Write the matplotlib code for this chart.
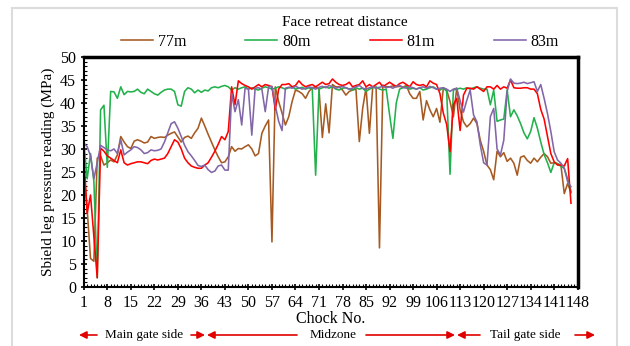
import numpy as np
import matplotlib.pyplot as plt
from matplotlib.patches import Rectangle
from matplotlib.ticker import MultipleLocator

# shield leg pressure (MPa) per chock, chocks 1..146
p77 = [25.5, 17.0, 6.2, 5.6, 28.0, 28.5, 26.5, 27.0, 27.6, 27.2,
       28.7, 32.7, 31.5, 30.5, 30.1, 31.7, 32.0, 31.7, 31.3, 31.5,
       32.7, 32.3, 32.5, 32.6, 32.5, 33.0, 33.4, 33.7, 32.6, 31.5,
       32.5, 32.8, 32.3, 33.5, 34.5, 36.7, 35.0, 33.2, 31.5, 29.8,
       28.3, 27.0, 27.2, 28.3, 30.5, 29.5, 30.1, 30.0, 30.5, 30.9,
       30.0, 28.5, 29.0, 33.4, 35.0, 36.3, 9.8, 43.5, 40.3, 37.8,
       35.2, 37.0, 40.3, 42.8, 42.5, 42.0, 41.0, 42.5, 43.3, 43.5,
       43.0, 32.5, 39.8, 33.5, 44.0, 43.5, 43.5, 42.8, 41.7, 42.5,
       42.8, 43.0, 31.6, 38.8, 43.3, 33.4, 43.5, 43.3, 8.5, 43.9,
       43.5, 43.5, 43.7, 43.5, 43.6, 43.4, 43.8, 42.0, 41.0, 41.0,
       42.5, 36.3, 40.5, 38.5, 37.0, 38.8, 35.8, 43.2, 42.8, 40.3,
       37.0, 43.2, 38.5, 35.9, 34.8, 35.5, 36.7, 35.5, 31.9, 29.5,
       26.5, 25.5, 23.3, 29.5, 28.3, 29.2, 27.3, 28.0, 26.9, 24.3,
       28.2, 28.5, 27.5, 26.9, 28.0, 27.2, 28.2, 29.0, 28.3, 26.9,
       27.0, 26.8, 26.5, 20.3, 22.5, 20.5]

p80 = [31.5, 23.5, 29.0, 23.0, 2.0, 38.5, 39.5, 26.0, 42.5, 42.4,
       41.0, 43.5, 41.8, 42.5, 42.4, 42.5, 43.0, 42.3, 42.0, 43.0,
       42.5, 42.0, 41.7, 42.3, 42.8, 43.0, 43.0, 42.5, 39.6, 39.3,
       42.5, 43.3, 43.0, 42.2, 42.8, 42.3, 42.8, 42.6, 43.3, 43.5,
       43.3, 43.6, 43.8, 43.5, 42.8, 43.3, 43.0, 43.3, 43.5, 43.0,
       43.3, 43.0, 42.8, 43.2, 43.5, 43.3, 43.0, 43.2, 43.5, 43.3,
       43.0, 43.3, 43.5, 43.0, 43.2, 43.4, 43.0, 43.3, 43.0, 24.3,
       43.0, 43.3, 43.5, 43.2, 43.6, 43.0, 42.8, 43.2, 43.3, 43.0,
       42.8, 43.3, 43.0, 43.2, 42.5, 43.0, 43.3, 43.5, 43.0, 42.8,
       43.0, 37.5, 32.3, 40.0, 43.0, 43.3, 43.5, 43.0, 43.2, 43.0,
       43.3, 42.8, 43.0, 43.3, 43.5, 43.0, 42.8, 43.3, 42.5, 24.5,
       42.8, 43.0, 43.2, 43.0, 43.3, 43.0, 43.3, 43.5, 43.2, 43.0,
       43.0, 39.6, 42.8, 36.0, 36.3, 36.5, 42.8, 37.0, 38.5, 37.2,
       35.5, 33.5, 32.2, 33.8, 36.8, 34.5, 31.5, 28.8, 27.0, 24.9,
       27.0, 26.8, 26.2, 25.8, 23.5, 20.8]

p81 = [28.5, 16.0, 20.0, 11.0, 2.0, 30.2, 29.5, 28.5, 28.0, 27.5,
       27.0, 29.8, 27.0, 26.5, 26.8, 27.0, 27.2, 27.2, 27.0, 26.8,
       27.5, 27.8, 27.6, 27.8, 28.0, 29.0, 30.5, 32.0, 31.5, 30.0,
       28.0, 27.0, 26.3, 26.0, 25.8, 25.8, 26.5, 27.0, 28.2, 29.5,
       31.0, 32.7, 32.0, 33.8, 43.5, 39.6, 44.8, 44.2, 43.8, 43.5,
       43.0, 43.5, 44.0, 43.5, 44.0, 43.8, 43.5, 38.5, 43.0, 44.0,
       44.0, 44.2, 43.5, 43.8, 44.8, 44.0, 43.5, 43.8, 44.0, 43.5,
       44.0, 44.5, 44.0, 44.2, 45.2, 44.5, 44.0, 43.8, 44.0, 44.5,
       43.5, 43.8, 44.0, 44.8, 43.5, 44.0, 43.5, 44.0, 44.5, 43.5,
       44.0, 44.5, 44.0, 43.6, 44.2, 44.5, 44.0, 43.5, 44.6, 44.0,
       43.8, 44.0, 43.5, 44.8, 44.3, 44.0, 42.0, 37.8, 35.3, 29.4,
       39.6, 41.0, 34.0, 41.7, 43.2, 43.2, 43.0, 43.5, 43.0, 42.5,
       43.5, 43.5, 43.0, 43.8, 43.0, 43.5, 43.2, 45.0, 43.3, 43.2,
       43.2, 43.3, 43.3, 43.0, 43.0, 42.0, 38.6, 36.5, 32.8, 29.0,
       27.2, 26.5, 26.5, 26.3, 27.9, 18.2]

p83 = [31.3, 30.5, 28.5, 23.5, 27.0, 30.8, 30.3, 29.8, 29.6, 30.0,
       29.0, 32.0, 28.7, 29.3, 29.8, 30.5, 30.3, 29.8, 29.0, 29.2,
       29.8, 29.6, 29.7, 30.0, 31.5, 33.5, 35.5, 35.9, 34.5, 32.7,
       30.8, 29.4, 28.5, 27.5, 26.4, 26.2, 26.5, 25.5, 24.9, 25.2,
       26.3, 26.5, 25.4, 25.4, 42.1, 38.1, 40.7, 35.2, 43.2, 43.0,
       33.0, 43.2, 43.3, 43.0, 38.1, 43.5, 43.6, 39.4, 36.0, 34.0,
       43.2, 43.4, 43.2, 43.6, 43.3, 43.0, 43.2, 43.5, 43.3, 43.0,
       43.4, 43.6, 43.3, 43.8, 43.5, 43.2, 43.4, 43.6, 43.3, 43.0,
       43.2, 43.5, 43.8, 43.2, 43.0, 43.3, 43.5, 43.2, 43.4, 43.6,
       43.3, 43.5, 43.2, 43.6, 43.8, 43.4, 43.2, 43.5, 43.3, 43.0,
       43.3, 43.5, 43.2, 43.6, 43.3, 43.0, 43.2, 43.3, 43.0, 42.5,
       43.0, 43.2, 40.5, 38.0, 40.6, 42.8, 37.4, 35.9, 30.9, 27.0,
       26.5, 37.0, 38.8, 30.0, 28.7, 31.9, 42.5, 45.2, 44.3, 44.2,
       44.3, 44.5, 44.2, 44.4, 44.6, 42.5, 44.0, 41.0, 37.7, 33.8,
       29.4, 27.6, 26.9, 25.8, 22.9, 21.8]

series = [("77m", p77, "#a65a22"), ("80m", p80, "#22b14c"),
          ("81m", p81, "#ff0000"), ("83m", p83, "#8266a8")]
xticks = list(range(1, 149, 7))

plt.rcParams['font.family'] = 'Liberation Serif'

fig = plt.figure(figsize=(6.3, 3.46), dpi=100)
# faint frame around the whole picture
fig.add_artist(Rectangle((12/630, -0.1), 605/630, 1.1 - 8/346, transform=fig.transFigure,
                         fill=False, ec='#dcdcdc', lw=1.5))

ax = fig.add_axes([0.133, 0.1705, 0.784, 0.665])
for name, vals, col in series:
    ax.plot(np.arange(1, len(vals) + 1), vals, color=col, lw=1.15, label=name)

ax.set_xlim(1, 148)
ax.set_ylim(0, 50)
ax.set_xticks(xticks)
ax.xaxis.set_minor_locator(MultipleLocator(1))
ax.yaxis.set_major_locator(MultipleLocator(5))
ax.yaxis.set_minor_locator(MultipleLocator(1))
ax.tick_params(which='major', direction='inout', length=5, width=1.2, labelsize=11.5, pad=3)
ax.tick_params(which='minor', direction='in', length=2.5, width=0.8)
for s in ['left', 'bottom']:
    ax.spines[s].set_linewidth(1.5)
for s in ['top', 'right']:
    ax.spines[s].set_linewidth(2.5)

ax.set_xlabel("Chock No.", fontsize=11.5, labelpad=0)
ax.set_ylabel("Sbield leg pressure reading (MPa)", fontsize=11, labelpad=4)

fig.text(345/630, 1 - 22/346, "Face retreat distance", ha='center', va='center', fontsize=11)
fig.legend(loc='center', bbox_to_anchor=(340/630, 1 - 42/346), ncol=4, frameon=False,
           fontsize=11.5, handlelength=2.0, columnspacing=3.7, handletextpad=0.3,
           borderpad=0.1)

# zone annotations below the axis
red = '#e00000'
yb = 11
def arrow(x0, x1):
    ax.annotate('', xy=(x1, yb), xytext=(x0, yb), xycoords='figure pixels',
                textcoords='figure pixels',
                arrowprops=dict(arrowstyle='-|>', color=red, lw=1.2, mutation_scale=11,
                                shrinkA=0, shrinkB=0))

arrow(97, 79)
arrow(191, 205)
arrow(297, 207)
arrow(366, 455)
arrow(480, 457)
arrow(575, 595)
fig.text(144/630, yb/346, "Main gate side", ha='center', va='center', fontsize=9.5)
fig.text(333/630, yb/346, "Midzone", ha='center', va='center', fontsize=9.5)
fig.text(525/630, yb/346, "Tail gate side", ha='center', va='center', fontsize=9.5)

fig.savefig("out.png", dpi=100)
